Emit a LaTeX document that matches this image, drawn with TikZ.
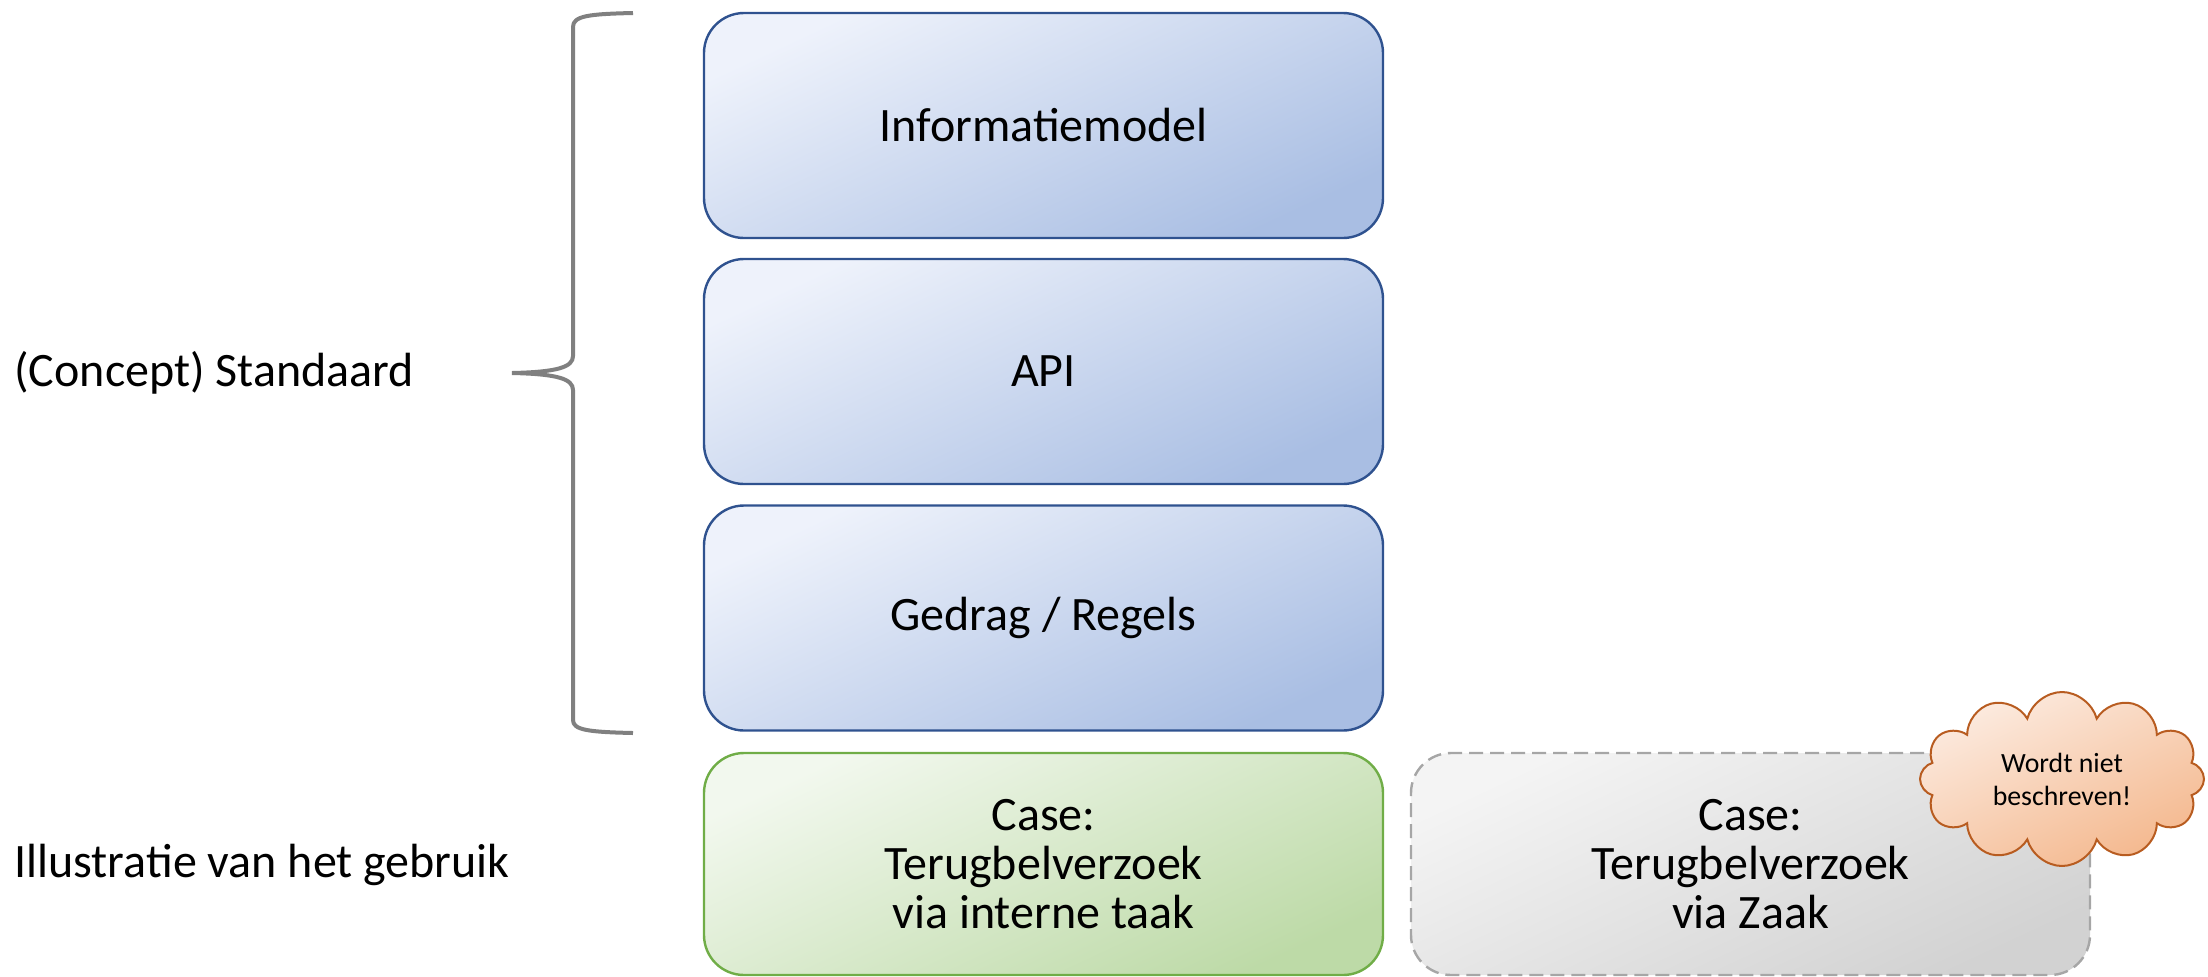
\documentclass[tikz,border=0pt]{standalone}
\usepackage{fontspec}
\setmainfont{Carlito}
\usetikzlibrary{shapes.symbols}
\definecolor{blueLight}{HTML}{EEF2FB}
\definecolor{blueDark}{HTML}{A9BEE3}
\definecolor{blueLine}{HTML}{2F528F}
\definecolor{greenLight}{HTML}{F2F8EE}
\definecolor{greenDark}{HTML}{BDDAA7}
\definecolor{greenLine}{HTML}{70AD47}
\definecolor{grayLight}{HTML}{F4F4F4}
\definecolor{grayDark}{HTML}{D2D2D2}
\definecolor{grayLine}{HTML}{A6A6A6}
\definecolor{cloudLight}{HTML}{FCEBE0}
\definecolor{cloudDark}{HTML}{F4B88E}
\definecolor{cloudLine}{HTML}{B85C20}
\definecolor{braceGray}{HTML}{808080}
\begin{document}
\begin{tikzpicture}[x=0.5pt,y=-0.5pt,
  layer/.style={rounded corners=20pt, minimum width=339.5pt, minimum height=112.5pt,
    line width=1.2pt, align=center, inner sep=0pt,
    font=\fontsize{24}{24.5}\selectfont},
  bluebox/.style={layer, draw=blueLine, top color=blueLight, bottom color=blueDark, shading angle=25},
  greenbox/.style={layer, minimum height=111pt, draw=greenLine, top color=greenLight, bottom color=greenDark, shading angle=25},
  graybox/.style={layer, minimum height=111pt, draw=grayLine, dash pattern=on 7pt off 3.5pt, top color=grayLight, bottom color=grayDark, shading angle=25},
  cloudnote/.style={cloud, cloud puffs=12, aspect=1.63, draw=cloudLine, line width=1pt,
    top color=cloudLight, bottom color=cloudDark, shading angle=25,
    minimum width=142pt, minimum height=87pt, inner sep=0pt, align=center,
    font=\fontsize{13.9}{16.5}\selectfont},
  sidelabel/.style={anchor=west, inner sep=0pt, font=\fontsize{24}{24.5}\selectfont},
  bracestyle/.style={draw=braceGray, line width=2pt}
]
\useasboundingbox (0,0) rectangle (2208,976);

\node[bluebox] (info) at (1043.5,125.5) {Informatiemodel};
\node[bluebox] (api) at (1043.5,371.5) {API};
\node[bluebox] (gedrag) at (1043.5,618) {Gedrag / Regels};
\node[greenbox] (case1) at (1043.5,864) {Case:\\Terugbelverzoek\\via interne taak};
\node[graybox] (case2) at (1750.5,864) {Case:\\Terugbelverzoek\\via Zaak};
\node[cloudnote] (note) at (2062,779) {Wordt niet\\beschreven!};

\node[sidelabel] (std) at (14,373) {(Concept) Standaard};
\node[sidelabel] (ill) at (14,865) {Illustratie van het gebruik};

\draw[bracestyle] (633,13) .. controls (588,14) and (573,16) .. (573,27)
  -- (573,356) .. controls (573,367) and (558,372) .. (512,373)
  .. controls (558,374) and (573,379) .. (573,390)
  -- (573,720) .. controls (573,730) and (588,732) .. (633,733);
\end{tikzpicture}
\end{document}
